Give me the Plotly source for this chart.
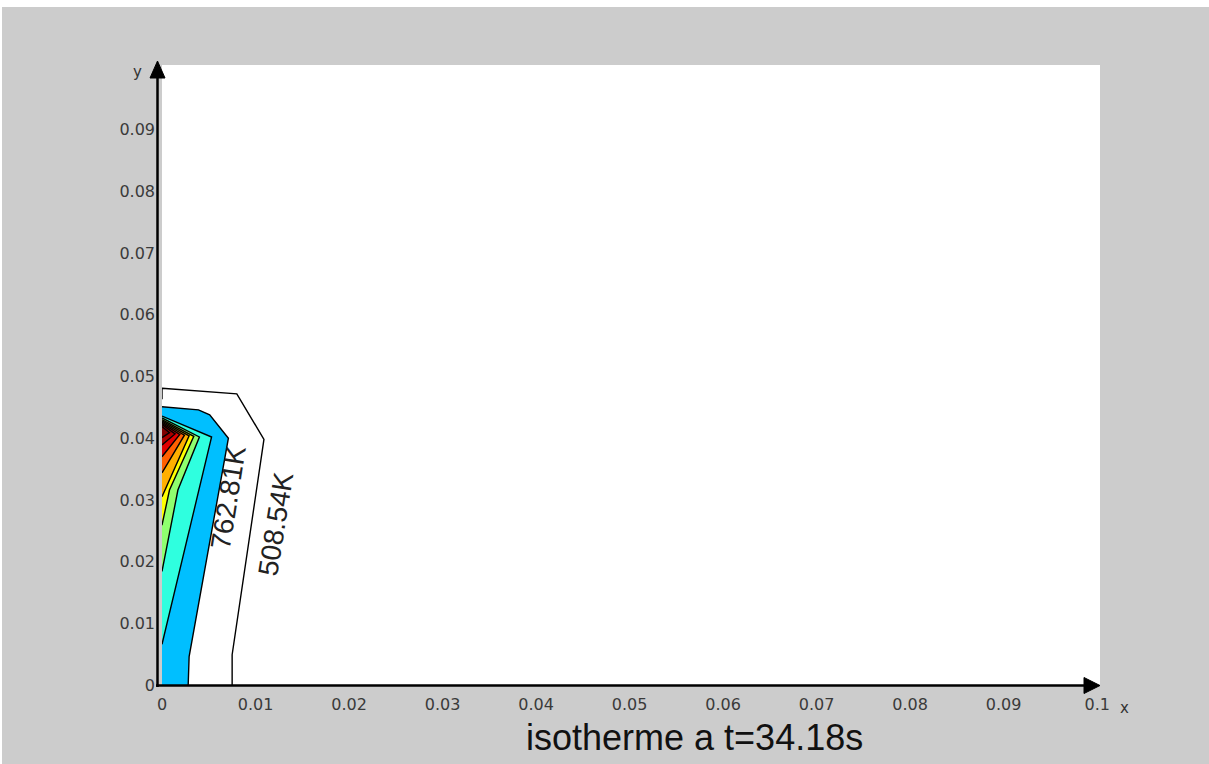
import plotly.graph_objects as go

# ---- data (data units) ----
tick_vals_x = [0, 0.01, 0.02, 0.03, 0.04, 0.05, 0.06, 0.07, 0.08, 0.09, 0.1]
tick_text_x = ["0", "0.01", "0.02", "0.03", "0.04", "0.05", "0.06", "0.07", "0.08", "0.09", "0.1"]
tick_vals_y = [0, 0.01, 0.02, 0.03, 0.04, 0.05, 0.06, 0.07, 0.08, 0.09]
tick_text_y = ["0", "0.01", "0.02", "0.03", "0.04", "0.05", "0.06", "0.07", "0.08", "0.09"]

# isotherm 508.54 K (outer line, no fill)
iso508_x = [0.0, 0.0, 0.0080, 0.0109, 0.0075, 0.0075]
iso508_y = [0.0463, 0.0481, 0.0472, 0.0398, 0.0049, 0.0]
# isotherm 762.81 K (blue band outer edge)
iso762_x = [0.0, 0.0039, 0.0051, 0.0071, 0.0029, 0.0028]
iso762_y = [0.0451, 0.0446, 0.0438, 0.0400, 0.0046, 0.0]
# inner isotherms (from left axis top, through corner, back to left axis)
iso_c1_x = [0.0, 0.0053, 0.0]
iso_c1_y = [0.0436, 0.0402, 0.0066]
iso_c2_x = [0.0, 0.0040, 0.0017, 0.0]
iso_c2_y = [0.0433, 0.0402, 0.0316, 0.0184]
iso_c3_x = [0.0, 0.0034, 0.0008, 0.0]
iso_c3_y = [0.0430, 0.0403, 0.0316, 0.0259]
iso_c4_x = [0.0, 0.0029, 0.0]
iso_c4_y = [0.0428, 0.0404, 0.0305]
iso_c5_x = [0.0, 0.0024, 0.0]
iso_c5_y = [0.0426, 0.0405, 0.0344]
iso_c6_x = [0.0, 0.0019, 0.0]
iso_c6_y = [0.0424, 0.0406, 0.0370]
iso_c7_x = [0.0, 0.0014, 0.0]
iso_c7_y = [0.0422, 0.0407, 0.0389]
iso_c8_x = [0.0, 0.0008, 0.0]
iso_c8_y = [0.0419, 0.0409, 0.0401]

band_colors = ["#00BFFF", "#2FFFDF", "#8FFF6F", "#FFFF00", "#FFAF00",
               "#FF6000", "#E00000", "#A80000", "#800000"]

label_text = ["762.81K", "508.54K"]
label_x = [0.00709, 0.01217]
label_y = [0.0304, 0.0262]

title_text = "isotherme a t=34.18s"

# ---- figure ----
W, H = 1209, 764
L, R, T, B = 162, 109, 65, 79
PW, PH = W - L - R, H - T - B


def px(xp):
    return (xp - L) / PW


def py(yp):
    return (H - B - yp) / PH


fig = go.Figure()

fills = [
    (iso762_x + [0.0], iso762_y + [0.0]),
    (iso_c1_x, iso_c1_y),
    (iso_c2_x, iso_c2_y),
    (iso_c3_x, iso_c3_y),
    (iso_c4_x, iso_c4_y),
    (iso_c5_x, iso_c5_y),
    (iso_c6_x, iso_c6_y),
    (iso_c7_x, iso_c7_y),
    (iso_c8_x, iso_c8_y),
]
for (fx, fy), col in zip(fills, band_colors):
    fig.add_trace(go.Scatter(x=fx, y=fy, mode="lines", fill="toself", fillcolor=col,
                             line=dict(width=0, color=col), hoverinfo="skip", showlegend=False))

lines = [(iso508_x, iso508_y), (iso762_x, iso762_y), (iso_c1_x, iso_c1_y), (iso_c2_x, iso_c2_y),
         (iso_c3_x, iso_c3_y), (iso_c4_x, iso_c4_y), (iso_c5_x, iso_c5_y), (iso_c6_x, iso_c6_y),
         (iso_c7_x, iso_c7_y), (iso_c8_x, iso_c8_y)]
for lx, ly in lines:
    fig.add_trace(go.Scatter(x=lx, y=ly, mode="lines", line=dict(color="black", width=1.4),
                             hoverinfo="skip", showlegend=False))

annotations = []
for t, ax_, ay_ in zip(label_text, label_x, label_y):
    annotations.append(dict(x=ax_, y=ay_, xref="x", yref="y", text=t, showarrow=False,
                            textangle=-81, font=dict(family="Liberation Sans, Arial", size=28, color="#222")))
annotations.append(dict(x=px(694), y=py(737), xref="paper", yref="paper", text=title_text,
                        showarrow=False, xanchor="center", yanchor="middle",
                        font=dict(family="Liberation Sans, Arial", size=36, color="#111")))
annotations.append(dict(x=px(137.5), y=py(72), xref="paper", yref="paper", text="y",
                        showarrow=False, xanchor="center", yanchor="middle",
                        font=dict(family="DejaVu Sans", size=15, color="#333")))
annotations.append(dict(x=px(1124), y=py(708), xref="paper", yref="paper", text="x",
                        showarrow=False, xanchor="center", yanchor="middle",
                        font=dict(family="DejaVu Sans", size=15, color="#333")))

shapes = [
    # white strips at the image border
    dict(type="rect", xref="paper", yref="paper", x0=px(0), x1=px(W), y0=py(7), y1=py(0),
         fillcolor="white", line=dict(width=0), layer="below"),
    dict(type="rect", xref="paper", yref="paper", x0=px(0), x1=px(2), y0=py(H), y1=py(0),
         fillcolor="white", line=dict(width=0), layer="below"),
    # axes lines
    dict(type="line", xref="paper", yref="paper", x0=px(157.5), x1=px(157.5), y0=py(687), y1=py(74),
         line=dict(color="black", width=2.5)),
    dict(type="line", xref="paper", yref="paper", x0=px(156), x1=px(1088), y0=py(685.5), y1=py(685.5),
         line=dict(color="black", width=2.5)),
    # arrow heads
    dict(type="path", xref="paper", yref="paper",
         path=f"M {px(157.5)} {py(61)} L {px(150)} {py(78)} L {px(165)} {py(78)} Z",
         fillcolor="black", line=dict(color="black", width=1)),
    dict(type="path", xref="paper", yref="paper",
         path=f"M {px(1100)} {py(685.5)} L {px(1084)} {py(677.5)} L {px(1084)} {py(693.5)} Z",
         fillcolor="black", line=dict(color="black", width=1)),
]

tickfont = dict(family="DejaVu Sans", size=16, color="#3a3a3a")
fig.update_layout(
    width=W, height=H,
    margin=dict(l=L, r=R, t=T, b=B, pad=0),
    paper_bgcolor="#CCCCCC", plot_bgcolor="white",
    showlegend=False,
    xaxis=dict(range=[0, 0.1003], tickvals=tick_vals_x, ticktext=tick_text_x, showgrid=False,
               zeroline=False, showline=False, ticks="", tickfont=tickfont, ticklabelstandoff=8,
               fixedrange=True),
    yaxis=dict(range=[0, 0.1005], tickvals=tick_vals_y, ticktext=tick_text_y, showgrid=False,
               zeroline=False, showline=False, ticks="", tickfont=tickfont, ticklabelstandoff=6,
               fixedrange=True),
    annotations=annotations,
    shapes=shapes,
)

fig.write_html("out.html", config={"displayModeBar": False},
               post_script="document.body.style.margin='0';document.body.style.overflow='hidden';")
